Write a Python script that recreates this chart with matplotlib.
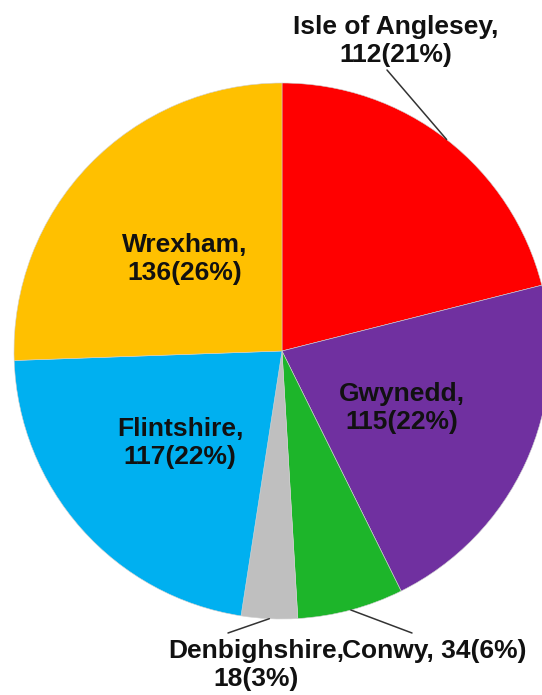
import numpy as np
import matplotlib.pyplot as plt

labels = ["Isle of Anglesey", "Gwynedd", "Conwy", "Denbighshire", "Flintshire", "Wrexham"]
values = [112, 115, 34, 18, 117, 136]
colors = ["#FF0000", "#7030A0", "#1DB52A", "#BFBFBF", "#00B0F0", "#FFC000"]

plt.rcParams['font.family'] = ['Liberation Sans', 'DejaVu Sans']

fig = plt.figure(figsize=(5.42, 6.95), dpi=100)
ax = fig.add_axes([0, 0, 1, 1])

cx, cy, r = 282, 344, 268
wedges, _ = ax.pie(values, colors=colors, startangle=90, counterclock=False,
                   center=(cx, cy), radius=r, frame=True,
                   wedgeprops=dict(linewidth=0.4, edgecolor='#d0d0d0'))
ax.set_xlim(0, 542)
ax.set_ylim(0, 695)
ax.set_aspect('equal')
ax.axis('off')

total = sum(values)
texts = [f"{l},\n{v}({round(v / total * 100):.0f}%)" for l, v in zip(labels, values)]
tkw = dict(fontsize=19, fontweight='bold', color='#111111', ha='center', va='center',
           linespacing=1.25)

# labels inside the pie
ax.text(402, 695 - 408, texts[1], **tkw)
ax.text(180, 695 - 443, texts[4], **tkw)
ax.text(185, 695 - 259, texts[5], **tkw)

# labels outside with leader lines
outside = {0: (396, 695 - 41, (387, 695 - 70)),
           3: (256, 695 - 665, (228, 695 - 633)),
           2: (434, 695 - 651, (412, 695 - 633))}
for i, (tx, ty, end) in outside.items():
    w = wedges[i]
    ang = np.deg2rad((w.theta1 + w.theta2) / 2)
    edge = (cx + r * np.cos(ang), cy + r * np.sin(ang))
    ax.annotate("", xy=edge, xytext=end,
                arrowprops=dict(arrowstyle='-', color='#333333', lw=1.1,
                                shrinkA=0, shrinkB=0))
    if i == 2:
        ax.text(tx, ty, f"{labels[i]}, {values[i]}({round(values[i] / total * 100):.0f}%)", **tkw)
    else:
        ax.text(tx, ty, texts[i], **tkw)

fig.savefig('out.png', dpi=100)
